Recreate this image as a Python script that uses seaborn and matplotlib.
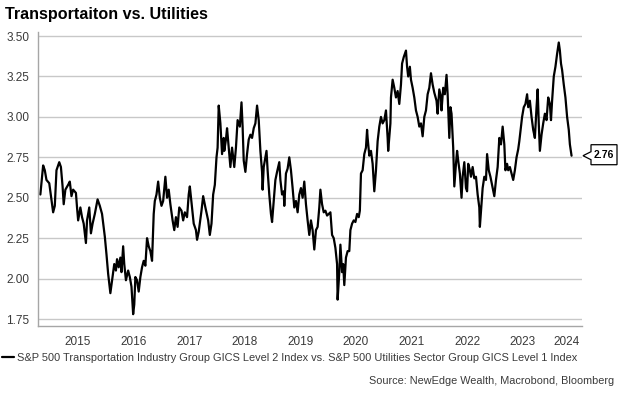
import numpy as np
import pandas as pd
import seaborn as sns
import matplotlib.pyplot as plt
import matplotlib.transforms as mtransforms
from matplotlib.patches import Polygon

# --- dados (ano decimal, razão Transportes / Utilities) ---
year_frac = [
    2014.82, 2014.87, 2014.90, 2014.93, 2014.98,
    2015.02, 2015.05, 2015.08, 2015.11, 2015.16, 2015.19, 2015.22, 2015.24, 2015.27, 2015.32,
    2015.35, 2015.38, 2015.41, 2015.46, 2015.48, 2015.50, 2015.54, 2015.57, 2015.60, 2015.64,
    2015.66, 2015.70, 2015.73, 2015.76, 2015.80, 2015.85, 2015.89, 2015.93, 2015.98,
    2016.01, 2016.04, 2016.08, 2016.12, 2016.15, 2016.18, 2016.20, 2016.23, 2016.26, 2016.28,
    2016.31, 2016.33, 2016.36, 2016.40, 2016.43, 2016.46, 2016.49, 2016.51, 2016.53, 2016.56,
    2016.59, 2016.62, 2016.65, 2016.68, 2016.71, 2016.74, 2016.77, 2016.80, 2016.83, 2016.86,
    2016.88, 2016.91, 2016.94, 2016.97,
    2017.00, 2017.03, 2017.07, 2017.10, 2017.13, 2017.16, 2017.20, 2017.23, 2017.26, 2017.29,
    2017.32, 2017.36, 2017.39, 2017.42, 2017.46, 2017.49, 2017.51, 2017.55, 2017.58, 2017.62,
    2017.64, 2017.67, 2017.72, 2017.75, 2017.79, 2017.84, 2017.87, 2017.90, 2017.93, 2017.96,
    2017.99,
    2018.01, 2018.03, 2018.06, 2018.09, 2018.12, 2018.13, 2018.16, 2018.18, 2018.21, 2018.24,
    2018.27, 2018.29, 2018.31, 2018.34, 2018.37, 2018.41, 2018.44, 2018.46, 2018.48, 2018.51,
    2018.54, 2018.57, 2018.60, 2018.63, 2018.66, 2018.69, 2018.72, 2018.75, 2018.78, 2018.81,
    2018.82, 2018.84, 2018.87, 2018.89, 2018.91, 2018.94, 2018.97, 2018.99,
    2019.02, 2019.05, 2019.08, 2019.12, 2019.14, 2019.17, 2019.20, 2019.21, 2019.24, 2019.27,
    2019.30, 2019.33, 2019.36, 2019.39, 2019.42, 2019.45, 2019.48, 2019.51, 2019.54, 2019.57,
    2019.60, 2019.63, 2019.66, 2019.69, 2019.72, 2019.75, 2019.78, 2019.81, 2019.84, 2019.86,
    2019.89, 2019.92, 2019.95, 2019.98,
    2020.01, 2020.04, 2020.07, 2020.10, 2020.13, 2020.16, 2020.17, 2020.20, 2020.22, 2020.25,
    2020.27, 2020.29, 2020.32, 2020.35, 2020.38, 2020.40, 2020.43, 2020.46, 2020.49, 2020.52,
    2020.55, 2020.57, 2020.59, 2020.62, 2020.65, 2020.68, 2020.70, 2020.71, 2020.74, 2020.77,
    2020.80, 2020.83, 2020.86, 2020.89, 2020.92, 2020.95, 2020.98,
    2021.01, 2021.04, 2021.07, 2021.08, 2021.12, 2021.13, 2021.16, 2021.19, 2021.22, 2021.25,
    2021.28, 2021.31, 2021.33, 2021.36, 2021.40, 2021.42, 2021.44, 2021.47, 2021.49, 2021.52,
    2021.55, 2021.58, 2021.61, 2021.64, 2021.67, 2021.70, 2021.73, 2021.76, 2021.79, 2021.82,
    2021.85, 2021.88, 2021.91, 2021.95, 2021.97,
    2022.00, 2022.03, 2022.04, 2022.07, 2022.10, 2022.13, 2022.15, 2022.18, 2022.20, 2022.22,
    2022.25, 2022.27, 2022.30, 2022.32, 2022.34, 2022.37, 2022.40, 2022.42, 2022.45, 2022.48,
    2022.50, 2022.52, 2022.55, 2022.57, 2022.60, 2022.63, 2022.66, 2022.69, 2022.72, 2022.73,
    2022.76, 2022.78, 2022.81, 2022.84, 2022.86, 2022.89, 2022.92, 2022.95, 2022.99,
    2023.02, 2023.05, 2023.08, 2023.11, 2023.14, 2023.17, 2023.19, 2023.22, 2023.24, 2023.27,
    2023.30, 2023.33, 2023.36, 2023.39, 2023.42, 2023.44, 2023.47, 2023.49, 2023.52, 2023.55,
    2023.58, 2023.60, 2023.63, 2023.66, 2023.69, 2023.72, 2023.75, 2023.77, 2023.79, 2023.81,
    2023.84, 2023.87, 2023.90, 2023.93, 2023.96, 2023.99,
    2024.01, 2024.03, 2024.06, 2024.09, 2024.12, 2024.15, 2024.17, 2024.19, 2024.21, 2024.24,
    2024.27, 2024.30, 2024.33, 2024.35, 2024.38,
]

ratio = [
    2.52, 2.70, 2.67, 2.61, 2.59,
    2.49, 2.41, 2.45, 2.67, 2.72, 2.69, 2.57, 2.46, 2.55, 2.58,
    2.60, 2.51, 2.55, 2.53, 2.44, 2.36, 2.44, 2.38, 2.34, 2.22,
    2.36, 2.44, 2.28, 2.34, 2.40, 2.49, 2.45, 2.40, 2.26,
    2.15, 2.03, 1.91, 2.01, 2.09, 2.05, 2.12, 2.07, 2.13, 2.04,
    2.20, 2.09, 1.99, 2.05, 2.01, 1.95, 1.78, 1.84, 2.01, 1.99,
    1.92, 2.01, 2.07, 2.11, 2.08, 2.25, 2.20, 2.17, 2.11, 2.40,
    2.48, 2.52, 2.60, 2.50,
    2.45, 2.48, 2.63, 2.50, 2.55, 2.46, 2.36, 2.30, 2.38, 2.32,
    2.44, 2.42, 2.36, 2.41, 2.38, 2.52, 2.57, 2.44, 2.34, 2.30,
    2.24, 2.29, 2.42, 2.51, 2.44, 2.36, 2.27, 2.34, 2.52, 2.58,
    2.75,
    2.81, 3.07, 2.96, 2.77, 2.87, 2.79, 2.86, 2.93, 2.81, 2.69,
    2.81, 2.75, 2.69, 2.81, 2.98, 2.94, 3.09, 2.94, 2.73, 2.66,
    2.77, 2.86, 2.89, 2.87, 2.93, 2.96, 3.07, 2.98, 2.79, 2.66,
    2.55, 2.69, 2.75, 2.79, 2.67, 2.52, 2.40, 2.35,
    2.48, 2.61, 2.66, 2.72, 2.61, 2.52, 2.54, 2.45, 2.65, 2.68,
    2.75, 2.67, 2.56, 2.44, 2.48, 2.41, 2.52, 2.56, 2.50, 2.60,
    2.46, 2.36, 2.27, 2.36, 2.30, 2.18, 2.30, 2.32, 2.44, 2.55,
    2.46, 2.41, 2.42, 2.39,
    2.40, 2.41, 2.27, 2.25, 2.19, 2.09, 1.87, 2.04, 2.21, 2.04,
    2.09, 1.96, 2.13, 2.17, 2.17, 2.30, 2.34, 2.36, 2.35, 2.40,
    2.38, 2.42, 2.65, 2.67, 2.77, 2.81, 2.92, 2.87, 2.76, 2.79,
    2.71, 2.54, 2.67, 2.85, 2.94, 3.00, 2.96,
    2.98, 3.04, 2.87, 2.79, 2.96, 3.12, 3.23, 3.18, 3.12, 3.16,
    3.08, 3.20, 3.33, 3.37, 3.41, 3.31, 3.25, 3.31, 3.23, 3.18,
    3.12, 3.04, 3.00, 2.94, 2.96, 2.88, 3.00, 3.04, 3.14, 3.18,
    3.27, 3.20, 3.15, 3.10, 3.02,
    3.17, 3.12, 3.04, 3.18, 3.14, 3.26, 3.14, 2.87, 3.06, 3.02,
    2.81, 2.57, 2.71, 2.79, 2.73, 2.65, 2.50, 2.63, 2.72, 2.56,
    2.54, 2.71, 2.67, 2.63, 2.69, 2.62, 2.63, 2.52, 2.44, 2.32,
    2.46, 2.56, 2.63, 2.61, 2.77, 2.67, 2.63, 2.58, 2.51,
    2.61, 2.69, 2.87, 2.83, 2.94, 2.83, 2.67, 2.71, 2.67, 2.69,
    2.65, 2.61, 2.67, 2.75, 2.80, 2.85, 2.94, 3.00, 3.06, 3.08,
    3.14, 3.06, 3.10, 3.00, 2.92, 2.87, 3.06, 3.17, 2.96, 2.79,
    2.89, 2.96, 3.02, 2.98, 3.12, 3.08,
    2.98, 3.10, 3.25, 3.31, 3.39, 3.46, 3.41, 3.33, 3.29, 3.20,
    3.12, 3.00, 2.92, 2.83, 2.76,
]

years = list(range(2015, 2025))
y_ticks = [1.75, 2.00, 2.25, 2.50, 2.75, 3.00, 3.25, 3.50]

title = "Transportaiton vs. Utilities"
series_label = ("S&P 500 Transportation Industry Group GICS Level 2 Index vs. "
                "S&P 500 Utilities Sector Group GICS Level 1 Index")
source = "Source: NewEdge Wealth, Macrobond, Bloomberg"

# --- estilo ---
sns.set_style("white")
plt.rcParams["font.family"] = ["Liberation Sans", "DejaVu Sans"]

grid_col = "#c8c8c8"
axis_col = "#a6a6a6"
text_col = "#3a3a3a"

dates = pd.Timestamp("2014-01-01") + pd.to_timedelta(
    (np.array(year_frac) - 2014) * 365.25, unit="D")
df = pd.DataFrame({"date": dates, "ratio": ratio})

fig = plt.figure(figsize=(6.24, 3.95), dpi=100)
ax = fig.add_axes([38 / 624, 69 / 395, 544 / 624, 294 / 395])

sns.lineplot(data=df, x="date", y="ratio", ax=ax, color="black",
             linewidth=1.6, label=series_label)

x_start = pd.Timestamp("2014-10-12")
x_end = pd.Timestamp("2024-07-27")
ax.set_xlim(x_start, x_end)
ax.set_ylim(1.707, 3.525)

# grade horizontal
ax.set_yticks(y_ticks)
ax.set_yticklabels([f"{v:.2f}" for v in y_ticks])
for v in y_ticks:
    ax.axhline(v, color=grid_col, linewidth=1.0, zorder=0)

# eixo x: marcas no início de cada ano, rótulos no meio
year_starts = [pd.Timestamp(f"{y}-01-01") for y in years]
mids = []
for y in years:
    a = pd.Timestamp(f"{y}-01-01")
    b = min(pd.Timestamp(f"{y + 1}-01-01"), x_end)
    mids.append(a + (b - a) / 2)
ax.set_xticks(year_starts)
ax.set_xticklabels([])
ax.set_xticks(mids, minor=True)
ax.set_xticklabels([str(y) for y in years], minor=True)
ax.tick_params(axis="x", which="major", length=5, width=1, color=axis_col, direction="out")
ax.tick_params(axis="x", which="minor", length=0, pad=7, labelsize=8.5, labelcolor=text_col)
ax.tick_params(axis="y", length=4, width=1, color=axis_col, labelsize=8.5,
               labelcolor=text_col, pad=2)

ax.set_xlabel("")
ax.set_ylabel("")
for side in ["top", "right"]:
    ax.spines[side].set_visible(False)
for side in ["left", "bottom"]:
    ax.spines[side].set_color(axis_col)
    ax.spines[side].set_linewidth(1.0)

# etiqueta do último valor
last_val = ratio[-1]
anchor = mtransforms.ScaledTranslation(1.0, last_val, ax.get_yaxis_transform())
callout = Polygon([(1, 0), (9, 4), (9, 11), (35, 11), (35, -9), (9, -9), (9, -4)],
                  closed=True, facecolor="white", edgecolor="black", linewidth=0.9,
                  transform=anchor, clip_on=False, zorder=5)
ax.add_patch(callout)
ax.text(22, 1, f"{last_val:.2f}", transform=anchor, ha="center", va="center",
        fontsize=7.5, fontweight="bold", color="black", zorder=6)

# título, legenda e fonte
fig.text(5 / 624, 1 - 15 / 395, title, fontsize=11.6, fontweight="bold",
         ha="left", va="center", color="black")

handles, labels = ax.get_legend_handles_labels()
ax.legend(handles, labels, loc="center left", bbox_to_anchor=(2 / 624, 1 - 358 / 395),
          bbox_transform=fig.transFigure, frameon=False, fontsize=7.9,
          handlelength=1.1, handletextpad=0.3, borderaxespad=0, borderpad=0,
          labelcolor=text_col)

fig.text(614 / 624, 1 - 381 / 395, source, fontsize=7.8, ha="right", va="center",
         color=text_col)

fig.savefig("out.png", dpi=100)
